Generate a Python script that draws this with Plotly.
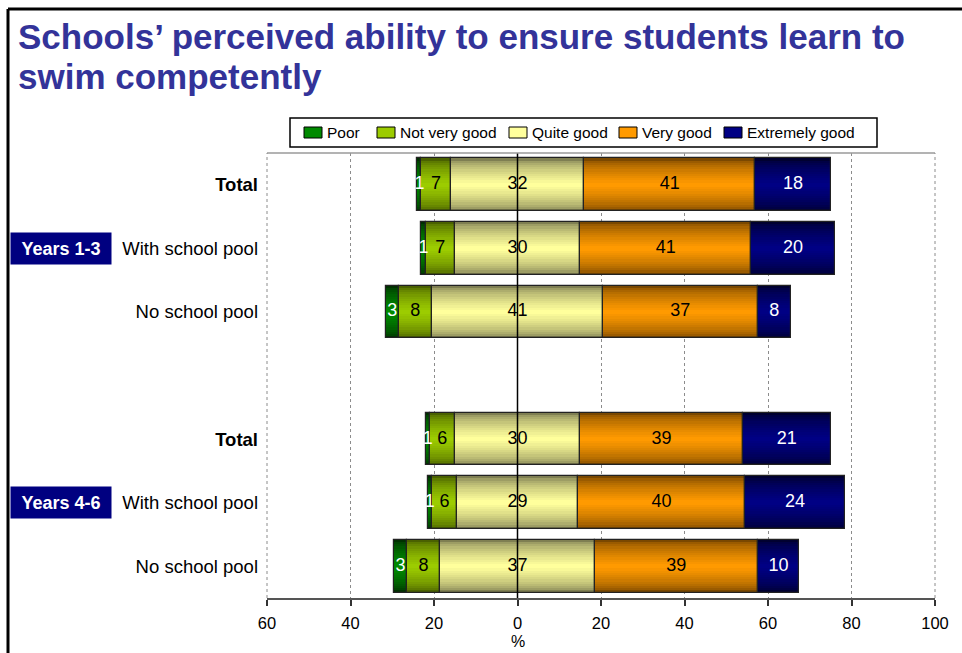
import plotly.graph_objects as go

# ---- data -------------------------------------------------------------
groups = ["Years 1-3", "Years 1-3", "Years 1-3", "Years 4-6", "Years 4-6", "Years 4-6"]
rows = ["Total", "With school pool", "No school pool",
        "Total", "With school pool", "No school pool"]

poor = [1, 1, 3, 1, 1, 3]
not_very_good = [7, 7, 8, 6, 6, 8]
quite_good = [32, 30, 41, 30, 29, 37]
very_good = [41, 41, 37, 39, 40, 39]
extremely_good = [18, 20, 8, 21, 24, 10]

series_names = ["Poor", "Not very good", "Quite good", "Very good", "Extremely good"]
x_ticks = [-60, -40, -20, 0, 20, 40, 60, 80, 100]
x_tick_text = ["60", "40", "20", "0", "20", "40", "60", "80", "100"]

# ---- styling ----------------------------------------------------------
FONT = "Arial, 'Liberation Sans', sans-serif"
bright = ["#008a00", "#9ccc00", "#ffff9c", "#ff9a00", "#000084"]
dark = ["#003000", "#4a6100", "#7f7f52", "#7a4800", "#000030"]
label_col = ["white", "black", "black", "black", "white"]

W, H = 962, 653
PL, PR, PT, PB = 267, 935, 153, 598          # plot area in pixels


def px(x):
    return (x - PL) / (PR - PL)


def py(y):
    return (PB - y) / (PB - PT)


# y position of each row: a blank slot separates the two year groups
group_order = list(dict.fromkeys(groups))
ypos = [i + group_order.index(g) for i, g in enumerate(groups)]

# diverging layout: negative ratings to the left, "Quite good" split at zero
series = [poor, not_very_good, quite_good, very_good, extremely_good]
bases, lengths = [[] for _ in series], [[] for _ in series]
for r in range(len(rows)):
    start = -(poor[r] + not_very_good[r] + quite_good[r] / 2)
    for s, vals in enumerate(series):
        bases[s].append(start)
        lengths[s].append(vals[r])
        start += vals[r]


def blend(c1, c2, t):
    a = [int(c1[i:i + 2], 16) for i in (1, 3, 5)]
    b = [int(c2[i:i + 2], 16) for i in (1, 3, 5)]
    return "#" + "".join(f"{round(a[k] + (b[k] - a[k]) * t):02x}" for k in range(3))


fig = go.Figure()

BAR_W = 0.83
N_LAYERS = 12
# shaded bars: stacked narrower layers from dark edge to bright centre
for s in range(len(series)):
    for k in range(N_LAYERS):
        t = (k / (N_LAYERS - 1)) ** 0.6
        fig.add_trace(go.Bar(
            orientation="h", y=ypos, x=lengths[s], base=bases[s],
            width=BAR_W * (1 - k / N_LAYERS),
            marker=dict(color=blend(dark[s], bright[s], t), line=dict(width=0)),
            showlegend=False, hoverinfo="skip",
        ))
    # segment outline on top
    fig.add_trace(go.Bar(
        orientation="h", y=ypos, x=lengths[s], base=bases[s], width=BAR_W,
        marker=dict(color="rgba(0,0,0,0)", line=dict(color="#222222", width=1.2)),
        showlegend=False, hoverinfo="skip",
    ))

# value labels centred in each segment
for s in range(len(series)):
    fig.add_trace(go.Scatter(
        x=[bases[s][r] + lengths[s][r] / 2 for r in range(len(rows))],
        y=ypos, mode="text",
        text=[str(v) for v in series[s]],
        textfont=dict(family=FONT, size=18, color=label_col[s]),
        showlegend=False, hoverinfo="skip", cliponaxis=False,
    ))

tick_text = [f"<b>{r}</b>" if r == "Total" else r for r in rows]

fig.update_layout(
    width=W, height=H,
    margin=dict(l=PL, r=W - PR, t=PT, b=H - PB, autoexpand=False),
    paper_bgcolor="white", plot_bgcolor="white",
    barmode="overlay", bargap=0, showlegend=False,
    font=dict(family=FONT, color="black"),
    xaxis=dict(
        range=[-60, 100], tickvals=x_ticks, ticktext=x_tick_text,
        showgrid=True, gridcolor="#8c8c8c", griddash="dot", gridwidth=1,
        zeroline=False, showline=True, linecolor="#555555", linewidth=2,
        ticks="outside", ticklen=6, tickcolor="#333333", tickwidth=1.5,
        tickfont=dict(family=FONT, size=16.5, color="black"),
        ticklabelstandoff=3, fixedrange=True,
    ),
    yaxis=dict(
        range=[len(rows) + len(group_order) - 1.5, -0.5],
        tickvals=ypos, ticktext=tick_text,
        tickfont=dict(family=FONT, size=18.5, color="black"),
        showgrid=False, zeroline=False, showline=False, ticks="",
        ticklabelstandoff=8, fixedrange=True,
    ),
)

# axis unit under the zero tick
fig.add_annotation(
    x=0, xref="x", xanchor="center",
    y=py(641), yref="paper", yanchor="middle",
    text="%", showarrow=False,
    font=dict(family=FONT, size=16, color="black"),
)

shapes = [
    # zero line across the plot
    dict(type="line", xref="x", yref="paper", x0=0, x1=0, y0=0, y1=1,
         line=dict(color="black", width=1.5), layer="above"),
    # plot frame: solid top, dotted sides
    dict(type="line", xref="paper", yref="paper", x0=0, x1=1, y0=1, y1=1,
         line=dict(color="#9a9a9a", width=1.5)),
    dict(type="line", xref="paper", yref="paper", x0=0, x1=0, y0=0, y1=1,
         line=dict(color="#8c8c8c", width=1, dash="dot")),
    dict(type="line", xref="paper", yref="paper", x0=1, x1=1, y0=0, y1=1,
         line=dict(color="#8c8c8c", width=1, dash="dot")),
    # page border
    dict(type="line", xref="paper", yref="paper",
         x0=px(8), x1=px(970), y0=py(9), y1=py(9),
         line=dict(color="black", width=3)),
    dict(type="line", xref="paper", yref="paper",
         x0=px(8), x1=px(8), y0=py(9), y1=py(660),
         line=dict(color="black", width=3)),
    # legend frame
    dict(type="rect", xref="paper", yref="paper",
         x0=px(290), x1=px(877), y0=py(147), y1=py(118),
         line=dict(color="black", width=1.5), fillcolor="white"),
]

# legend entries: swatch + label
legend_x = [304, 377, 509, 619, 724]
for s, name in enumerate(series_names):
    x0 = legend_x[s]
    shapes.append(dict(
        type="rect", xref="paper", yref="paper",
        x0=px(x0), x1=px(x0 + 18), y0=py(138), y1=py(127),
        line=dict(color="black", width=1), fillcolor=bright[s],
    ))
    fig.add_annotation(
        x=px(x0 + 21), xref="paper", xanchor="left",
        y=py(132.5), yref="paper", yanchor="middle",
        text=name, showarrow=False,
        font=dict(family=FONT, size=15.5, color="black"),
    )
fig.update_layout(shapes=shapes)

# two-line heading
title_lines = ["Schools’ perceived ability to ensure students learn to", "swim competently"]
for i, line in enumerate(title_lines):
    fig.add_annotation(
        x=px(16), xref="paper", xanchor="left",
        y=py(36 + 40 * i), yref="paper", yanchor="middle",
        text=f"<b>{line}</b>", showarrow=False,
        font=dict(family=FONT, size=35, color="#333399"),
    )

# year-group tags beside the middle row of each group
for g in group_order:
    mid = [ypos[i] for i, gg in enumerate(groups) if gg == g]
    fig.add_annotation(
        x=px(10), xref="paper", xanchor="left",
        y=mid[len(mid) // 2], yref="y", yanchor="middle",
        text=f"<b>{g}</b>", showarrow=False,
        width=98, height=29, bgcolor="#000080", align="center",
        font=dict(family=FONT, size=18, color="white"),
    )

fig.write_html("out.html")
